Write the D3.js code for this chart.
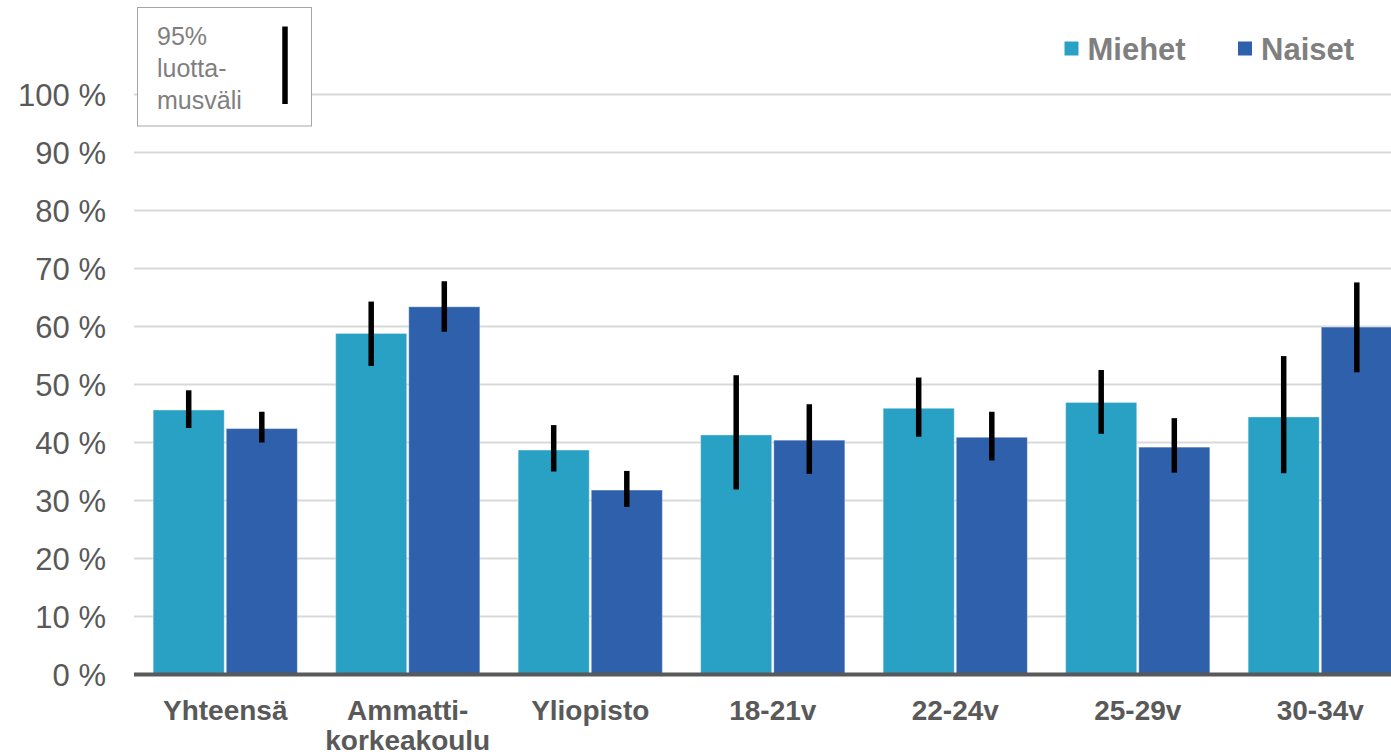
<!DOCTYPE html>
<html>
<head>
<meta charset="utf-8">
<script src="https://cdn.jsdelivr.net/npm/d3@7"></script>
<style>
  html, body { margin: 0; padding: 0; background: #fff; }
  svg { display: block; font-family: "Liberation Sans", Arial, sans-serif; }
</style>
</head>
<body>
<svg id="chart" width="1391" height="756"></svg>
<script>
const categories = ["Yhteensä", "Ammatti-\nkorkeakoulu", "Yliopisto", "18-21v", "22-24v", "25-29v", "30-34v"];
const seriesNames = ["Miehet", "Naiset"];
const miehet      = [45.6, 58.8, 38.7, 41.3, 45.9, 46.9, 44.4];
const miehetLow   = [42.5, 53.2, 35.0, 31.9, 41.0, 41.5, 34.7];
const miehetHigh  = [49.0, 64.3, 43.0, 51.6, 51.2, 52.5, 54.9];
const naiset      = [42.4, 63.4, 31.8, 40.4, 40.9, 39.2, 59.9];
const naisetLow   = [40.0, 59.1, 28.9, 34.6, 36.9, 34.8, 52.1];
const naisetHigh  = [45.3, 67.8, 35.1, 46.6, 45.3, 44.2, 67.6];
const yTicks = [0, 10, 20, 30, 40, 50, 60, 70, 80, 90, 100];
const colors = { Miehet: "#28a1c5", Naiset: "#2f60ac" };

const data = categories.map((c, i) => ({
  cat: c,
  vals: [
    { s: "Miehet", v: miehet[i], lo: miehetLow[i], hi: miehetHigh[i] },
    { s: "Naiset", v: naiset[i], lo: naisetLow[i], hi: naisetHigh[i] }
  ]
}));

const svg = d3.select("#chart");
const W = 1391;

const x = d3.scaleBand().domain(categories).range([134, 1411.5]).paddingInner(0.21).paddingOuter(0.105);
const xs = d3.scaleBand().domain(seriesNames).range([0, x.bandwidth()]).paddingInner(0.028);
const y = d3.scaleLinear().domain([0, 100]).range([674.5, 94.5]);

// gridlines
svg.append("g").selectAll("line").data(yTicks.filter(t => t > 0)).join("line")
  .attr("x1", 134).attr("x2", W)
  .attr("y1", d => y(d)).attr("y2", d => y(d))
  .attr("stroke", "#d9d9d9").attr("stroke-width", 2);

// y tick labels
svg.append("g").selectAll("text").data(yTicks).join("text")
  .attr("x", 106).attr("y", d => y(d) + 11.5)
  .attr("text-anchor", "end")
  .attr("font-size", 31).attr("fill", "#595959")
  .text(d => d + " %");

// bars
const groups = svg.append("g").selectAll("g").data(data).join("g")
  .attr("transform", d => `translate(${x(d.cat)},0)`);

groups.selectAll("rect").data(d => d.vals).join("rect")
  .attr("x", d => xs(d.s)).attr("width", xs.bandwidth())
  .attr("y", d => y(d.v)).attr("height", d => y(0) - y(d.v))
  .attr("fill", d => colors[d.s])
  .attr("stroke", "#ffffff").attr("stroke-opacity", 0.35).attr("stroke-width", 1);

// error bars
groups.selectAll("line.err").data(d => d.vals).join("line")
  .attr("class", "err")
  .attr("x1", d => xs(d.s) + xs.bandwidth() / 2).attr("x2", d => xs(d.s) + xs.bandwidth() / 2)
  .attr("y1", d => y(d.hi)).attr("y2", d => y(d.lo))
  .attr("stroke", "#000").attr("stroke-width", 5.5);

// x axis line
svg.append("line").attr("x1", 134).attr("x2", W)
  .attr("y1", y(0)).attr("y2", y(0))
  .attr("stroke", "#595959").attr("stroke-width", 4);

// category labels
const lab = svg.append("g").selectAll("text").data(categories).join("text")
  .attr("x", d => x(d) + x.bandwidth() / 2).attr("y", 720)
  .attr("text-anchor", "middle").attr("font-size", 28).attr("font-weight", "bold")
  .attr("fill", "#595959");
lab.each(function(d) {
  const lines = d.split("\n");
  const t = d3.select(this);
  lines.forEach((l, i) => {
    t.append("tspan").attr("x", x(d) + x.bandwidth() / 2).attr("dy", i === 0 ? 0 : 30).text(l);
  });
});

// legend (series)
const legX = [1064.5, 1238];
seriesNames.forEach((s, i) => {
  svg.append("rect").attr("x", legX[i]).attr("y", 41.5).attr("width", 14).attr("height", 14)
    .attr("fill", colors[s]);
  svg.append("text").attr("x", legX[i] + 23).attr("y", 59.5)
    .attr("font-size", 31).attr("font-weight", "bold").attr("fill", "#7f7f7f").text(s);
});

// confidence interval legend box
svg.append("rect").attr("x", 137.5).attr("y", 7.5).attr("width", 174).attr("height", 118.5)
  .attr("fill", "#fff").attr("stroke", "#a6a6a6").attr("stroke-width", 1);
const ciLines = ["95%", "luotta-", "musväli"];
svg.append("g").selectAll("text").data(ciLines).join("text")
  .attr("x", 157).attr("y", (d, i) => 45 + i * 32)
  .attr("font-size", 25).attr("fill", "#7f7f7f").text(d => d);
svg.append("line").attr("x1", 285).attr("x2", 285).attr("y1", 26.5).attr("y2", 104)
  .attr("stroke", "#000").attr("stroke-width", 5.5);
</script>
</body>
</html>
